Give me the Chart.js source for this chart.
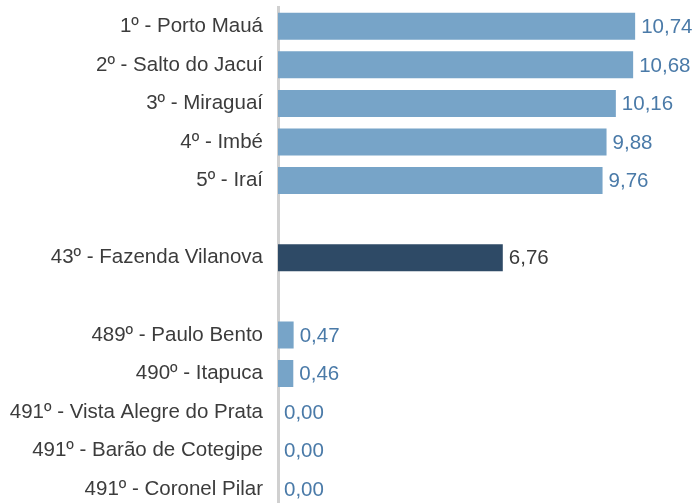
<!DOCTYPE html>
<html>
<head>
<meta charset="utf-8">
<script src="https://cdn.jsdelivr.net/npm/chart.js@4"></script>
<style>
  html, body { margin: 0; padding: 0; background: #fff; overflow: hidden; }
  canvas { display: block; }
</style>
</head>
<body>
<canvas id="ranking" width="693" height="510"></canvas>
<script>
// empty strings / nulls leave a blank row between the groups
const municipios = [
    '1º - Porto Mauá',
    '2º - Salto do Jacuí',
    '3º - Miraguaí',
    '4º - Imbé',
    '5º - Iraí',
    '',
    '43º - Fazenda Vilanova',
    '',
    '489º - Paulo Bento',
    '490º - Itapuca',
    '491º - Vista Alegre do Prata',
    '491º - Barão de Cotegipe',
    '491º - Coronel Pilar',
];
const valores = [10.74, 10.68, 10.16, 9.88, 9.76, null, 6.76, null, 0.47, 0.46, 0.00, 0.00, 0.00];
const destaque = '43º - Fazenda Vilanova';

const corBarra = '#77a4c8';
const corDestaque = '#2e4a66';
const corValor = '#4a7aa8';
const corValorDestaque = '#3a3a3a';
const fonte = "'Liberation Sans', Arial, sans-serif";

const barColors = municipios.map(m => (m === destaque ? corDestaque : corBarra));
const valueColors = municipios.map(m => (m === destaque ? corValorDestaque : corValor));

// writes the value next to each bar, decimal comma
const valueLabels = {
    id: 'valueLabels',
    afterDatasetsDraw(chart) {
        const ctx = chart.ctx;
        const meta = chart.getDatasetMeta(0);
        ctx.save();
        ctx.font = '20.5px ' + fonte;
        ctx.textAlign = 'left';
        ctx.textBaseline = 'middle';
        meta.data.forEach((bar, i) => {
            const v = valores[i];
            if (v === null) return;
            ctx.fillStyle = valueColors[i];
            ctx.fillText(v.toFixed(2).replace('.', ','), bar.x + 6, bar.y + 1);
        });
        ctx.restore();
    },
};

new Chart(document.getElementById('ranking').getContext('2d'), {
    type: 'bar',
    data: {
        labels: municipios,
        datasets: [{
            data: valores,
            backgroundColor: barColors,
            borderWidth: 0,
            barPercentage: 0.7,
            categoryPercentage: 1,
        }],
    },
    options: {
        indexAxis: 'y',
        responsive: false,
        animation: false,
        layout: { padding: { top: 7, bottom: 1.5, left: 0, right: 0 } },
        plugins: {
            legend: { display: false },
            tooltip: { enabled: false },
        },
        scales: {
            x: {
                display: false,
                min: 0,
                max: 12.48,
            },
            y: {
                grid: { display: false, drawTicks: false },
                border: { display: true, color: '#d0d0d0', width: 3 },
                ticks: {
                    color: '#3c3c3c',
                    font: { family: fonte, size: 20.5 },
                    padding: 15,
                    autoSkip: false,
                },
                afterFit(scale) {
                    // fixed label column; no extra room above/below for labels
                    scale.width = 278;
                    scale.paddingTop = 0;
                    scale.paddingBottom = 0;
                },
            },
        },
    },
    plugins: [valueLabels],
});
</script>
</body>
</html>
